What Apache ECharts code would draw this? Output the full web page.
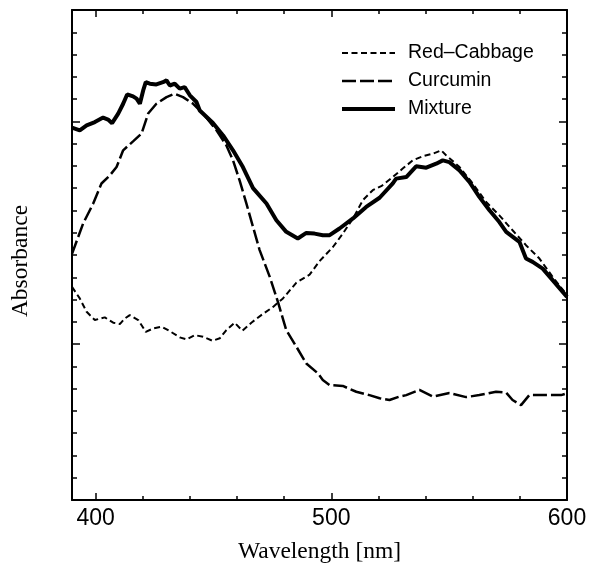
<!DOCTYPE html>
<html>
<head>
<meta charset="utf-8">
<script src="https://cdn.jsdelivr.net/npm/echarts@6/dist/echarts.min.js"></script>
<style>
html,body{margin:0;padding:0;background:#fff;}
#chart{width:591px;height:564px;}
</style>
</head>
<body>
<div id="chart"></div>
<script>
// ---- data ----
const xMajorTicks = [400, 500, 600];
const xMinorTicks = [420, 440, 460, 480, 520, 540, 560, 580];
const yMajorTicks = [0, 1];
const yMinorTicks = [-0.6, -0.5, -0.4, -0.3, -0.2, -0.1, 0.1, 0.2, 0.3, 0.4, 0.5, 0.6, 0.7, 0.8, 0.9, 1.1, 1.2, 1.3, 1.4];

const seriesNames = ['Red\u2013Cabbage', 'Curcumin', 'Mixture'];

const cabbageNm = [390, 393.3, 396.2, 399.7, 403.9, 407.5, 410.3, 412.4, 414.5, 418.1,
  421.3, 424.4, 428.0, 431.5, 435.7, 438.6, 442.1, 445.6, 449.6, 452.7,
  455.5, 459.0, 462.3, 466.1, 470.3, 475.3, 479.5, 485.2, 490.8, 495.0,
  500.7, 504.9, 509.2, 513.4, 517.6, 521.2, 526.1, 530.3, 534.6, 538.8,
  543.1, 546.6, 548.7, 554.4, 560.0, 565.7, 571.3, 576.9, 582.6, 588.3,
  593.9, 600];
const cabbageAbs = [0.257, 0.205, 0.145, 0.108, 0.120, 0.096, 0.090, 0.115, 0.130, 0.108,
  0.055, 0.070, 0.078, 0.058, 0.030, 0.021, 0.040, 0.033, 0.015, 0.026,
  0.063, 0.096, 0.060, 0.096, 0.130, 0.167, 0.205, 0.276, 0.312, 0.372,
  0.436, 0.496, 0.564, 0.646, 0.691, 0.709, 0.750, 0.788, 0.825, 0.843,
  0.855, 0.870, 0.848, 0.795, 0.721, 0.638, 0.578, 0.511, 0.444, 0.384,
  0.302, 0.220];

const curcuminNm = [390, 394.7, 399.0, 402.5, 406.1, 408.9, 411.7, 415.9, 419.5, 422.3,
  425.8, 430.1, 433.6, 437.1, 441.4, 445.6, 451.3, 455.5, 458.3, 461.1,
  464.0, 466.8, 469.6, 473.9, 477.4, 480.9, 485.2, 489.4, 494.3, 496.4,
  499.3, 504.9, 510.6, 516.2, 520.5, 524.7, 528.9, 531.8, 537.4, 543.1,
  550.1, 557.2, 562.8, 569.9, 574.2, 576.9, 580.5, 584.0, 589.7, 593.9,
  597.5, 600];
const curcuminAbs = [0.405, 0.541, 0.631, 0.721, 0.758, 0.795, 0.870, 0.910, 0.945, 1.035,
  1.079, 1.109, 1.124, 1.109, 1.079, 1.035, 0.960, 0.892, 0.825, 0.735,
  0.631, 0.526, 0.422, 0.302, 0.188, 0.063, -0.012, -0.087, -0.131, -0.161,
  -0.184, -0.188, -0.214, -0.229, -0.243, -0.251, -0.236, -0.229, -0.206, -0.236,
  -0.220, -0.238, -0.229, -0.214, -0.218, -0.251, -0.274, -0.229, -0.229, -0.229,
  -0.229, -0.221];

const mixtureNm = [390, 393.3, 396.2, 399.7, 403.2, 405.3, 407.0, 409.6, 411.7, 413.4,
  415.9, 417.4, 418.8, 420.2, 421.3, 423.0, 425.8, 428.6, 430.1, 431.5,
  433.6, 435.7, 437.8, 440.0, 442.8, 444.2, 449.8, 454.1, 458.3, 462.5,
  466.8, 472.5, 476.7, 480.9, 485.8, 489.4, 492.9, 496.4, 499.3, 503.5,
  509.2, 514.8, 520.5, 526.1, 527.5, 531.8, 536.0, 540.3, 544.5, 547.3,
  550.1, 554.4, 558.6, 562.8, 567.1, 571.3, 574.2, 579.8, 582.6, 585.4,
  589.7, 593.9, 600];
const mixtureAbs = [0.972, 0.960, 0.982, 0.997, 1.017, 1.008, 0.992, 1.035, 1.079, 1.121,
  1.112, 1.102, 1.079, 1.139, 1.176, 1.169, 1.166, 1.176, 1.184, 1.161,
  1.169, 1.147, 1.154, 1.117, 1.087, 1.049, 0.993, 0.937, 0.870, 0.795,
  0.700, 0.631, 0.556, 0.504, 0.474, 0.499, 0.496, 0.489, 0.489, 0.519,
  0.564, 0.616, 0.657, 0.722, 0.743, 0.750, 0.798, 0.792, 0.810, 0.825,
  0.817, 0.780, 0.728, 0.661, 0.601, 0.548, 0.504, 0.459, 0.384, 0.369,
  0.339, 0.287, 0.212];

// ---- chart ----
function zip(a, b) { return a.map((v, i) => [v, b[i]]); }

const SANS = 'Liberation Sans, Arial, sans-serif';
const SERIF = 'Liberation Serif, Times New Roman, serif';

function mkX(position, ticks, len, showLine, showLabels, withName) {
  const ax = {
    type: 'value', min: 390, max: 600, position: position, gridIndex: 0,
    axisLine: { show: showLine, onZero: false, lineStyle: { color: '#000', width: 2 } },
    axisTick: { show: true, inside: true, length: len, customValues: ticks,
      lineStyle: { color: '#000', width: 1.5 } },
    axisLabel: { show: showLabels, margin: 7, fontSize: 23, fontFamily: SANS, color: '#000' },
    splitLine: { show: false }
  };
  if (showLabels) ax.axisLabel.customValues = xMajorTicks;
  if (withName) {
    ax.name = 'Wavelength [nm]';
    ax.nameLocation = 'middle';
    ax.nameGap = 40;
    ax.nameTextStyle = { fontFamily: SERIF, fontSize: 23.5, color: '#000' };
  }
  return ax;
}
function mkY(position, ticks, len, showLine) {
  return {
    type: 'value', min: -0.7, max: 1.5, position: position, gridIndex: 0,
    axisLine: { show: showLine, onZero: false, lineStyle: { color: '#000', width: 2 } },
    axisTick: { show: true, inside: true, length: len, customValues: ticks,
      lineStyle: { color: '#000', width: 1.5 } },
    axisLabel: { show: false },
    splitLine: { show: false }
  };
}

const styles = [
  { width: 2, type: [6, 3.5] },
  { width: 2.5, type: [14, 4] },
  { width: 4, type: 'solid' }
];
const dataSets = [zip(cabbageNm, cabbageAbs), zip(curcuminNm, curcuminAbs), zip(mixtureNm, mixtureAbs)];

const chart = echarts.init(document.getElementById('chart'), null, { renderer: 'canvas' });
chart.setOption({
  animation: false,
  backgroundColor: '#fff',
  grid: { left: 72, right: 24, top: 10, bottom: 64, containLabel: false, outerBoundsMode: 'none' },
  xAxis: [
    mkX('bottom', xMajorTicks, 7, true, true, true),
    mkX('bottom', xMinorTicks, 4, false, false, false),
    mkX('top', xMajorTicks, 7, true, false, false),
    mkX('top', xMinorTicks, 4, false, false, false)
  ],
  yAxis: [
    mkY('left', yMajorTicks, 8, true),
    mkY('left', yMinorTicks, 5, false),
    mkY('right', yMajorTicks, 8, true),
    mkY('right', yMinorTicks, 5, false)
  ],
  legend: {
    orient: 'vertical', left: 340, top: 43, padding: 0,
    itemWidth: 53, itemHeight: 20, itemGap: 8,
    textStyle: { fontSize: 19.5, fontFamily: SANS, color: '#000', padding: [0, 0, 0, 8] },
    itemStyle: { opacity: 0, color: 'transparent', borderWidth: 0 },
    data: seriesNames.map((n, i) => ({
      name: n,
      itemStyle: { opacity: 0, color: 'transparent', borderWidth: 0 },
      lineStyle: { color: '#000', width: styles[i].width, type: styles[i].type, opacity: 1 }
    })),
    selectedMode: false
  },
  graphic: [{
    type: 'text',
    rotation: Math.PI / 2,
    x: 21, y: 261,
    style: { text: 'Absorbance', font: '23.5px ' + SERIF, fill: '#000', textAlign: 'center', textVerticalAlign: 'middle' }
  }],
  series: seriesNames.map((n, i) => ({
    name: n, type: 'line', xAxisIndex: 0, yAxisIndex: 0,
    data: dataSets[i], symbol: 'none', showSymbol: false, smooth: false,
    lineStyle: { color: '#000', width: styles[i].width, type: styles[i].type },
    itemStyle: { color: '#000' },
    z: 2 + i
  }))
});
</script>
</body>
</html>
